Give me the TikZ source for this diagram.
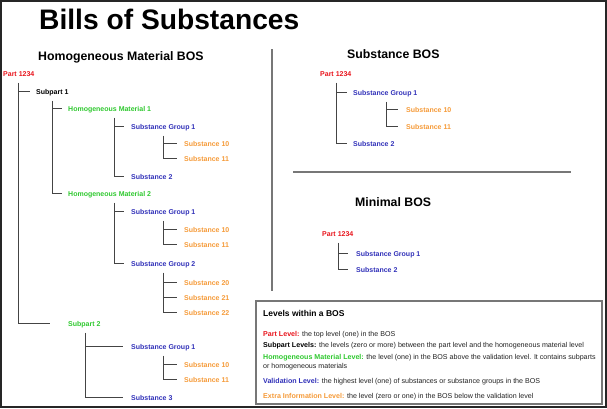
\documentclass[tikz,border=0pt]{standalone}
\usepackage{fontspec}
\setmainfont{Liberation Sans}
\definecolor{cred}{HTML}{E8141C}
\definecolor{cgreen}{HTML}{2EC82E}
\definecolor{cblue}{HTML}{3030B8}
\definecolor{corange}{HTML}{F59A38}
\definecolor{cline}{HTML}{444444}
\definecolor{cdiv}{HTML}{777777}
\definecolor{ctext}{HTML}{222222}
\begin{document}
\begin{tikzpicture}[x=1pt,y=-1pt,
  lbl/.style={anchor=west,inner sep=0pt,font=\fontsize{7}{8}\selectfont\bfseries,text height=8pt,text depth=1.5pt},
  partc/.style={lbl,text=cred},
  subc/.style={lbl,text=black},
  homc/.style={lbl,text=cgreen},
  valc/.style={lbl,text=cblue},
  extc/.style={lbl,text=corange},
  heading/.style={anchor=base west,inner sep=0pt,font=\fontsize{12.3}{14}\selectfont\bfseries},
  tl/.style={draw=cline,line width=0.9pt},
  divider/.style={draw=cdiv,line width=1.6pt},
  leg/.style={anchor=base west,inner sep=0pt,font=\fontsize{7.1}{8}\selectfont,text=ctext},
]
\useasboundingbox (0,0) rectangle (607,408);
% frame
\draw[line width=2pt,draw=black!85] (1,1) rectangle (605.5,406.5);

% title
\node[anchor=base west,inner sep=0pt,font=\fontsize{28.2}{30}\selectfont\bfseries] (title) at (39,29) {Bills of Substances};

% ---------------- Homogeneous Material BOS ----------------
\node[heading] (hh) at (38,60) {Homogeneous Material BOS};
\node[partc] (p1) at (3,73) {Part 1234};
\node[subc] (s1) at (36,91) {Subpart 1};
\node[homc] (h1) at (68,108) {Homogeneous Material 1};
\node[valc] (g1) at (131,126) {Substance Group 1};
\node[extc] (x10a) at (184,143) {Substance 10};
\node[extc] (x11a) at (184,158) {Substance 11};
\node[valc] (s2a) at (131,176) {Substance 2};
\node[homc] (h2) at (68,193) {Homogeneous Material 2};
\node[valc] (g1b) at (131,211) {Substance Group 1};
\node[extc] (x10b) at (184,229) {Substance 10};
\node[extc] (x11b) at (184,244) {Substance 11};
\node[valc] (g2) at (131,263) {Substance Group 2};
\node[extc] (x20) at (184,282) {Substance 20};
\node[extc] (x21) at (184,297) {Substance 21};
\node[extc] (x22) at (184,312) {Substance 22};
\node[homc] (sp2) at (68,323) {Subpart 2};
\node[valc] (g1c) at (131,346) {Substance Group 1};
\node[extc] (x10c) at (184,364) {Substance 10};
\node[extc] (x11c) at (184,379) {Substance 11};
\node[valc] (s3) at (131,397) {Substance 3};

\draw[tl] ([xshift=15pt,yshift=-5pt]p1.south west) |- ([xshift=-6pt]s1.west);
\draw[tl] ([xshift=15pt,yshift=-5pt]p1.south west) |- ([xshift=-18pt]sp2.west);
\draw[tl] ([xshift=16pt,yshift=-5pt]s1.south west) |- ([xshift=-6pt]h1.west);
\draw[tl] ([xshift=16pt,yshift=-5pt]s1.south west) |- ([xshift=-6pt]h2.west);
\draw[tl] ([xshift=46pt,yshift=-5pt]h1.south west) |- ([xshift=-7pt]g1.west);
\draw[tl] ([xshift=46pt,yshift=-5pt]h1.south west) |- ([xshift=-7pt]s2a.west);
\draw[tl] ([xshift=32pt,yshift=-5pt]g1.south west) |- ([xshift=-7pt]x10a.west);
\draw[tl] ([xshift=32pt,yshift=-5pt]g1.south west) |- ([xshift=-7pt]x11a.west);
\draw[tl] ([xshift=46pt,yshift=-5pt]h2.south west) |- ([xshift=-7pt]g1b.west);
\draw[tl] ([xshift=46pt,yshift=-5pt]h2.south west) |- ([xshift=-7pt]g2.west);
\draw[tl] ([xshift=32pt,yshift=-5pt]g1b.south west) |- ([xshift=-7pt]x10b.west);
\draw[tl] ([xshift=32pt,yshift=-5pt]g1b.south west) |- ([xshift=-7pt]x11b.west);
\draw[tl] ([xshift=32pt,yshift=-5pt]g2.south west) |- ([xshift=-7pt]x20.west);
\draw[tl] ([xshift=32pt,yshift=-5pt]g2.south west) |- ([xshift=-7pt]x21.west);
\draw[tl] ([xshift=32pt,yshift=-5pt]g2.south west) |- ([xshift=-7pt]x22.west);
\draw[tl] ([xshift=17pt,yshift=-5pt]sp2.south west) |- ([xshift=-8pt]g1c.west);
\draw[tl] ([xshift=17pt,yshift=-5pt]sp2.south west) |- ([xshift=-8pt]s3.west);
\draw[tl] ([xshift=32pt,yshift=-5pt]g1c.south west) |- ([xshift=-7pt]x10c.west);
\draw[tl] ([xshift=32pt,yshift=-5pt]g1c.south west) |- ([xshift=-7pt]x11c.west);

% dividers
\draw[divider] (272,49) -- (272,291);
\draw[divider] (293,172) -- (571,172);

% ---------------- Substance BOS ----------------
\node[heading] (hs) at (347,58) {Substance BOS};
\node[partc] (q1) at (320,73) {Part 1234};
\node[valc] (qg1) at (353,92) {Substance Group 1};
\node[extc] (q10) at (406,109) {Substance 10};
\node[extc] (q11) at (406,126) {Substance 11};
\node[valc] (q2) at (353,143) {Substance 2};
\draw[tl] ([xshift=16pt,yshift=-5pt]q1.south west) |- ([xshift=-6pt]qg1.west);
\draw[tl] ([xshift=16pt,yshift=-5pt]q1.south west) |- ([xshift=-6pt]q2.west);
\draw[tl] ([xshift=33pt,yshift=-5pt]qg1.south west) |- ([xshift=-8pt]q10.west);
\draw[tl] ([xshift=33pt,yshift=-5pt]qg1.south west) |- ([xshift=-8pt]q11.west);

% ---------------- Minimal BOS ----------------
\node[heading] (hm) at (355,206) {Minimal BOS};
\node[partc] (m1) at (322,233) {Part 1234};
\node[valc] (mg1) at (356,253) {Substance Group 1};
\node[valc] (m2) at (356,269) {Substance 2};
\draw[tl] ([xshift=16pt,yshift=-5pt]m1.south west) |- ([xshift=-8pt]mg1.west);
\draw[tl] ([xshift=16pt,yshift=-5pt]m1.south west) |- ([xshift=-8pt]m2.west);

% ---------------- Legend ----------------
\draw[draw=cdiv,line width=1.5pt] (256,301) rectangle (602,404);
\node[anchor=base west,inner sep=0pt,font=\fontsize{8.5}{10}\selectfont\bfseries] (lt) at (263,316) {Levels within a BOS};
\node[leg] (l1) at (263,336.5) {\textcolor{cred}{\bfseries Part Level:} the top level (one) in the BOS};
\node[leg] (l2) at (263,347) {\textcolor{black}{\bfseries Subpart Levels:} the levels (zero or more) between the part level and the homogeneous material level};
\node[leg] (l3) at (263,359.5) {\textcolor{cgreen}{\bfseries Homogeneous Material Level:} the level (one) in the BOS above the validation level. It contains subparts};
\node[leg] (l3b) at (263,368) {or homogeneous materials};
\node[leg] (l4) at (263,383.5) {\textcolor{cblue}{\bfseries Validation Level:} the highest level (one) of substances or substance groups in the BOS};
\node[leg] (l5) at (263,398.5) {\textcolor{corange}{\bfseries Extra Information Level:} the level (zero or one) in the BOS below the validation level};
\end{tikzpicture}
\end{document}
